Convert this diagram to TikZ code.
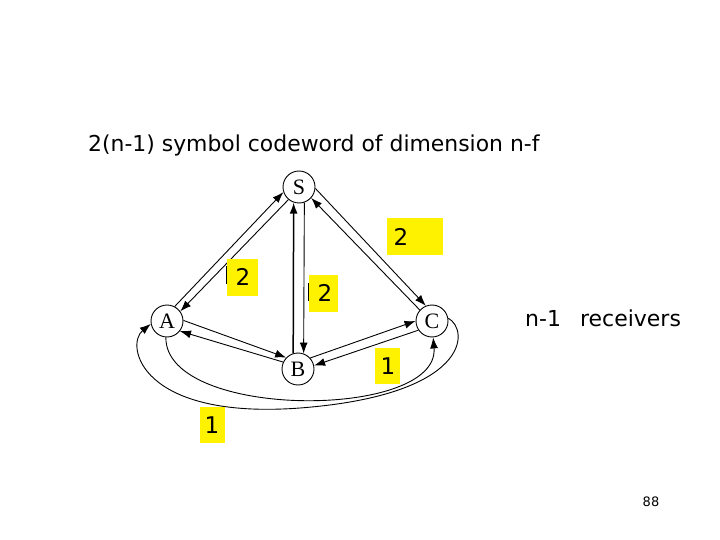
\documentclass[tikz,border=0pt]{standalone}
\usepackage{fontspec}
\setmainfont{Liberation Serif}
\newfontfamily\comic{DejaVu Sans}
\usetikzlibrary{arrows.meta}
\begin{document}
\begin{tikzpicture}[x=1pt,y=-1pt,
  vertex/.style={circle,draw,line width=0.9pt,minimum size=32pt,inner sep=0pt,font=\fontsize{22}{22}\selectfont},
  edge/.style={line width=0.9pt,-{Latex[length=11pt,width=8pt]}},
  ybox/.style={fill=yellow,inner sep=0pt,draw=none},
  digit/.style={font=\comic\fontsize{23}{23}\selectfont,inner sep=0pt},
  txt/.style={font=\comic\fontsize{21.9}{24}\selectfont,inner sep=0pt}]
\useasboundingbox[fill=white] (0,0) rectangle (720,540);

\node[txt,anchor=base west] (title) at (88,152) {2(n-1) symbol codeword of dimension n-f};
\node[txt,anchor=base west,font=\comic\fontsize{22}{24}\selectfont] (recv) at (525,326) {n-1\hspace{19pt}receivers};
\node[font=\comic\fontsize{13}{13}\selectfont,inner sep=0pt] (page) at (651,502) {88};

\node[vertex] (S) at (299,187) {S};
\node[vertex] (A) at (167,321) {A};
\node[vertex] (B) at (298,369) {B};
\node[vertex] (C) at (432,321) {C};

% curves
\draw[edge] (A.266) .. controls (165,420) and (440,420) .. (C.274);
\draw[edge] (C.10) .. controls (470,330) and (470,395) .. (300,408) .. controls (140,420) and (125,345) .. (A.190);

% straight pairs
\draw[edge] (A.62) -- (S.198);
\draw[edge] (S.230) -- (A.36);
\draw[edge,line width=1.5pt] (B.107) -- (S.251);
\draw[edge] (S.289) -- (B.70);
\draw[edge] (S.355) -- (C.112);
\draw[edge] (C.138) -- (S.318);
\draw[edge] (A.2) -- (B.136);
\draw[edge] (B.155) -- (A.322);
\draw[edge] (B.42) -- (C.180);
\draw[edge] (C.214) -- (B.12);

% labels
\node[ybox,minimum width=56pt,minimum height=37pt] (l1) at (415,236.5) {};
\node[digit] (d1) at (401,237) {2};
\node[ybox,minimum width=31pt,minimum height=37pt] (l2) at (242.5,277.5) {};
\node[digit] (d2) at (243,277) {2};
\draw[line width=0.8pt] ([yshift=-7pt]l2.north west) -- ([yshift=12pt]l2.south west);
\node[ybox,minimum width=29pt,minimum height=37pt] (l3) at (323.5,293.5) {};
\node[digit] (d3) at (325,293) {2};
\draw[line width=0.8pt] ([yshift=-8pt]l3.north west) -- ([yshift=11pt]l3.south west);
\node[ybox,minimum width=25pt,minimum height=36pt] (l4) at (387.5,366) {};
\node[digit] (d4) at (388,366) {1};
\node[ybox,minimum width=25pt,minimum height=36pt] (l5) at (212.5,425) {};
\node[digit] (d5) at (212,425) {1};
\end{tikzpicture}
\end{document}
